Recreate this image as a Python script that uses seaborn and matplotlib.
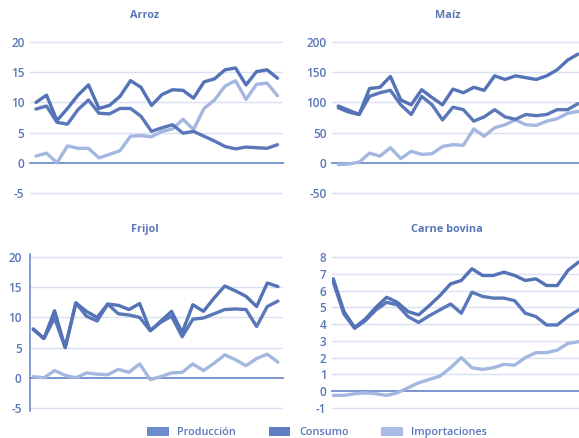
import numpy as np
import pandas as pd
import matplotlib
matplotlib.use("Agg")
import matplotlib.pyplot as plt
import seaborn as sns
from matplotlib.patches import Patch

# ---------------- data ----------------
series_names = ["Producción", "Consumo", "Importaciones"]

arroz_prod = [8.9, 9.4, 6.7, 6.4, 8.8, 10.4, 8.2, 8.1, 9.0, 9.0, 7.7, 5.2,
              5.8, 6.3, 4.9, 5.2, 4.4, 3.6, 2.7, 2.3, 2.6, 2.5, 2.4, 3.0]
arroz_cons = [10.0, 11.2, 7.0, 9.0, 11.2, 12.9, 9.0, 9.5, 11.0, 13.6, 12.5, 9.5,
              11.3, 12.1, 12.0, 10.7, 13.4, 13.9, 15.4, 15.7, 12.9, 15.1, 15.4, 14.0]
arroz_imp = [1.1, 1.6, 0.0, 2.8, 2.4, 2.4, 0.8, 1.4, 2.0, 4.4, 4.5, 4.3,
             5.2, 5.6, 7.2, 5.5, 9.0, 10.4, 12.7, 13.6, 10.5, 13.0, 13.2, 11.1]

maiz_prod = [91, 84, 80, 110, 116, 120, 96, 80, 110, 96, 71, 92,
             88, 69, 76, 88, 76, 72, 80, 78, 80, 88, 88, 98]
maiz_cons = [94, 87, 80, 123, 125, 143, 104, 96, 121, 108, 96, 122,
             116, 125, 120, 144, 138, 144, 141, 138, 144, 154, 170, 180]
maiz_imp = [-3, -2, 1, 16, 11, 25, 7, 19, 14, 15, 27, 30,
            29, 56, 44, 58, 63, 71, 63, 62, 69, 73, 82, 85]

frijol_prod = [8.0, 6.5, 9.9, 5.0, 12.4, 10.2, 9.4, 12.2, 10.6, 10.4, 10.0, 7.8,
               9.2, 10.2, 6.8, 9.7, 9.9, 10.6, 11.3, 11.4, 11.3, 8.5, 11.8, 12.7]
frijol_cons = [8.1, 6.5, 11.1, 5.0, 12.4, 11.0, 10.0, 12.2, 12.0, 11.3, 12.3, 7.8,
               9.4, 11.0, 7.5, 12.1, 11.0, 13.2, 15.2, 14.4, 13.5, 11.8, 15.7, 15.1]
frijol_imp = [0.2, 0.0, 1.2, 0.4, 0.0, 0.8, 0.6, 0.5, 1.4, 0.9, 2.3, -0.3,
              0.2, 0.8, 0.9, 2.3, 1.2, 2.4, 3.8, 3.0, 2.0, 3.2, 3.9, 2.6]

carne_prod = [6.5, 4.6, 3.75, 4.2, 4.85, 5.3, 5.15, 4.45, 4.1, 4.5, 4.85, 5.2,
              4.65, 5.9, 5.65, 5.55, 5.55, 5.4, 4.65, 4.45, 3.95, 3.95, 4.45, 4.85]
carne_cons = [6.7, 4.75, 3.8, 4.3, 5.0, 5.6, 5.3, 4.75, 4.55, 5.1, 5.7, 6.4,
              6.6, 7.3, 6.9, 6.9, 7.1, 6.9, 6.6, 6.7, 6.3, 6.3, 7.2, 7.7]
carne_imp = [-0.25, -0.25, -0.15, -0.1, -0.15, -0.25, -0.1, 0.2, 0.5, 0.7, 0.9, 1.4,
             2.0, 1.4, 1.3, 1.4, 1.6, 1.55, 2.0, 2.3, 2.3, 2.45, 2.85, 2.95]

titles = ["Arroz", "Maíz", "Frijol", "Carne bovina"]
arroz_yticks = [-5, 0, 5, 10, 15, 20]
maiz_yticks = [-50, 0, 50, 100, 150, 200]
frijol_yticks = [-5, 0, 5, 10, 15, 20]
carne_yticks = [-1, 0, 1, 2, 3, 4, 5, 6, 7, 8]

# ---------------- style ----------------
sns.set_style("white")
plt.rcParams["font.family"] = ["Open Sans", "DejaVu Sans"]

c_prod = "#5A77B9"
c_cons = "#5472B6"
c_imp = "#A3B7E1"
palette = {"Producción": c_prod, "Consumo": c_cons, "Importaciones": c_imp}
txt_col = "#5876B8"
grid_col = "#D8E0F1"
axis_col = "#6F8CCB"

W, H = 579, 438
fig = plt.figure(figsize=(W / 100, H / 100), dpi=100)


def px_rect(x0, y0, x1, y1):
    return [x0 / W, 1 - y1 / H, (x1 - x0) / W, (y1 - y0) / H]


panels = [
    dict(title=titles[0], vals=(arroz_prod, arroz_cons, arroz_imp), rect=(30, 39, 283, 196),
         xlim=(-0.57, 23.52), ylim=(-5.5, 20.5), yticks=arroz_yticks, step=8.43, spine=False,
         tpos=(145, 15)),
    dict(title=titles[1], vals=(maiz_prod, maiz_cons, maiz_imp), rect=(332, 39, 585, 196),
         xlim=(-0.6, 23.67), ylim=(-55, 205), yticks=maiz_yticks, step=10.0, spine=False,
         tpos=(448, 15)),
    dict(title=titles[2], vals=(frijol_prod, frijol_cons, frijol_imp), rect=(30, 254, 283, 411),
         xlim=(-0.31, 23.48), ylim=(-5.5, 20.5), yticks=frijol_yticks, step=8.43, spine=True,
         tpos=(145, 229)),
    dict(title=titles[3], vals=(carne_prod, carne_cons, carne_imp), rect=(332, 254, 585, 411),
         xlim=(-0.12, 23.6), ylim=(-1.18, 8.18), yticks=carne_yticks, step=10.0, spine=False,
         tpos=(447, 229)),
]

for p in panels:
    ax = fig.add_axes(px_rect(*p["rect"]))
    n = len(p["vals"][0])
    df = pd.DataFrame({
        "x": list(range(n)) * 3,
        "valor": list(p["vals"][2]) + list(p["vals"][0]) + list(p["vals"][1]),
        "serie": ["Importaciones"] * n + ["Producción"] * n + ["Consumo"] * n,
    })
    sns.lineplot(data=df, x="x", y="valor", hue="serie", palette=palette, ax=ax,
                 linewidth=2.4, legend=False, sort=False, zorder=3)
    ax.set_xlim(*p["xlim"])
    ax.set_ylim(*p["ylim"])
    ax.set_xlabel("")
    ax.set_ylabel("")
    ax.set_yticks(p["yticks"])
    ax.set_yticklabels([str(t) for t in p["yticks"]])
    for t in p["yticks"]:
        if t != 0:
            ax.axhline(t, color=grid_col, lw=1.0, zorder=1)
    x0px, _, x1px, _ = p["rect"]
    ppu = (x1px - x0px) / (p["xlim"][1] - p["xlim"][0])
    ticks = np.arange(p["xlim"][0], p["xlim"][1] + 1e-6, p["step"] / ppu)
    ax.set_xticks(ticks)
    ax.set_xticklabels([])
    ax.spines["bottom"].set_position(("data", 0))
    ax.spines["bottom"].set_color(axis_col)
    ax.spines["bottom"].set_linewidth(1.3)
    ax.spines["bottom"].set_zorder(2)
    ax.spines["top"].set_visible(False)
    ax.spines["right"].set_visible(False)
    ax.spines["left"].set_visible(p["spine"])
    ax.spines["left"].set_color(axis_col)
    ax.spines["left"].set_linewidth(1.2)
    ax.tick_params(axis="x", direction="out", length=3.5, width=1.0, color=axis_col, pad=0)
    ax.tick_params(axis="y", length=3 if p["spine"] else 0, width=1.0, color=axis_col,
                   pad=3 if p["spine"] else 4, labelsize=8.5, labelcolor=txt_col)
    for lab in ax.get_yticklabels():
        lab.set_fontweight("semibold")
    ax.set_facecolor("none")
    fig.text(p["tpos"][0] / W, 1 - p["tpos"][1] / H, p["title"], ha="center", va="center",
             fontsize=7.8, fontweight="bold", color=txt_col)

handles = [Patch(facecolor="#6E8BCA", edgecolor="none", label="Producción"),
           Patch(facecolor="#5F7EC2", edgecolor="none", label="Consumo"),
           Patch(facecolor="#A9BCE3", edgecolor="none", label="Importaciones")]
leg = fig.legend(handles=handles, loc="center", bbox_to_anchor=(0.548, 0.013), ncol=3,
                 frameon=False, fontsize=7.8, handlelength=2.0, handleheight=0.9,
                 columnspacing=3.0, handletextpad=0.8)
for t in leg.get_texts():
    t.set_color(txt_col)
    t.set_fontweight("semibold")

fig.savefig("out.png", dpi=100)
